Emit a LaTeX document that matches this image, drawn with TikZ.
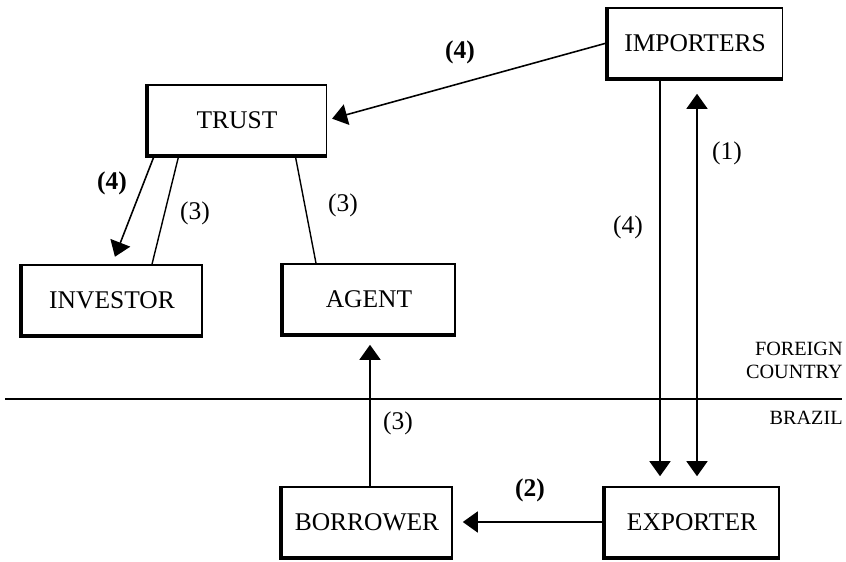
\documentclass[tikz,border=0pt]{standalone}
\usepackage{fontspec}
\setmainfont{Liberation Serif}
\usetikzlibrary{arrows.meta, positioning, calc}
\newcommand\boxfont{\fontsize{14.5}{17}\selectfont}
\newcommand\numfont{\fontsize{14.5}{17}\selectfont}
\newcommand\sidefont{\fontsize{11.5}{13}\selectfont}
\tikzset{
  party/.style={draw, line width=0.9pt, minimum width=3.5cm, minimum height=1.4cm, font=\boxfont, inner sep=0pt},
  flow/.style={line width=0.9pt, -{Triangle[length=0.3cm,width=0.42cm]}},
  both/.style={line width=0.9pt, {Triangle[length=0.3cm,width=0.42cm]}-{Triangle[length=0.3cm,width=0.42cm]}},
  tie/.style={line width=0.8pt},
  num/.style={font=\numfont, inner sep=1pt},
  boldnum/.style={num, font=\numfont\bfseries}
}
\begin{document}
\begin{tikzpicture}
\useasboundingbox (0,0) rectangle (16.92,11.22);
% parties
\node[party] (imp) at (13.9,10.36) {IMPORTERS};
\node[party, minimum width=3.58cm] (trust) at (4.74,8.82) {TRUST};
\node[party, minimum width=3.6cm] (inv) at (2.24,5.22) {INVESTOR};
\node[party, minimum width=3.44cm] (agent) at (7.38,5.24) {AGENT};
\node[party, minimum width=3.4cm] (bor) at (7.34,0.78) {BORROWER};
\node[party, minimum width=3.48cm] (exp) at (13.84,0.78) {EXPORTER};
\foreach \n in {imp,trust,inv,agent,bor,exp}
  \draw[line width=2.2pt] (\n.north west) -- (\n.south west) -- (\n.south east);
% border line
\draw[line width=1.6pt] (0.1,3.24) -- (16.84,3.24);
\node[font=\sidefont, anchor=east, align=right, inner sep=0pt] (foreign) at (16.86,4.02) {FOREIGN\\COUNTRY};
\node[font=\sidefont, anchor=east, inner sep=0pt] (brazil) at (16.86,2.86) {BRAZIL};
% flows
\draw[flow, shorten >=0.1cm] (imp.west) -- (trust.east);
\draw[flow, shorten >=0.2cm] ([xshift=-0.7cm]imp.south) -- ([xshift=-0.7cm]imp.south |- exp.north);
\draw[both, shorten <=0.3cm, shorten >=0.2cm] ([xshift=0.04cm]imp.south) -- ([xshift=0.04cm]imp.south |- exp.north);
\draw[flow, shorten >=0.2cm] (exp.west) -- (bor.east);
\draw[flow, shorten >=0.2cm] ([xshift=0.06cm]bor.north) -- ([xshift=0.06cm]bor.north |- agent.south);
\draw[flow, shorten >=0.16cm] ([xshift=0.15cm]trust.south west) -- (inv.north);
\draw[tie] ([xshift=0.64cm]trust.south west) -- ([xshift=0.8cm]inv.north);
\draw[tie] ([xshift=-0.64cm]trust.south east) -- ([xshift=-1.06cm]agent.north);
% labels
\node[boldnum] (n1) at (9.2,10.18) {(4)};
\node[num] (n2) at (14.54,8.16) {(1)};
\node[num] (n3) at (12.56,6.68) {(4)};
\node[boldnum] (n4) at (2.24,7.56) {(4)};
\node[num] (n5) at (3.9,6.96) {(3)};
\node[num] (n6) at (6.86,7.12) {(3)};
\node[num] (n7) at (7.96,2.76) {(3)};
\node[boldnum] (n8) at (10.6,1.42) {(2)};
\end{tikzpicture}
\end{document}
